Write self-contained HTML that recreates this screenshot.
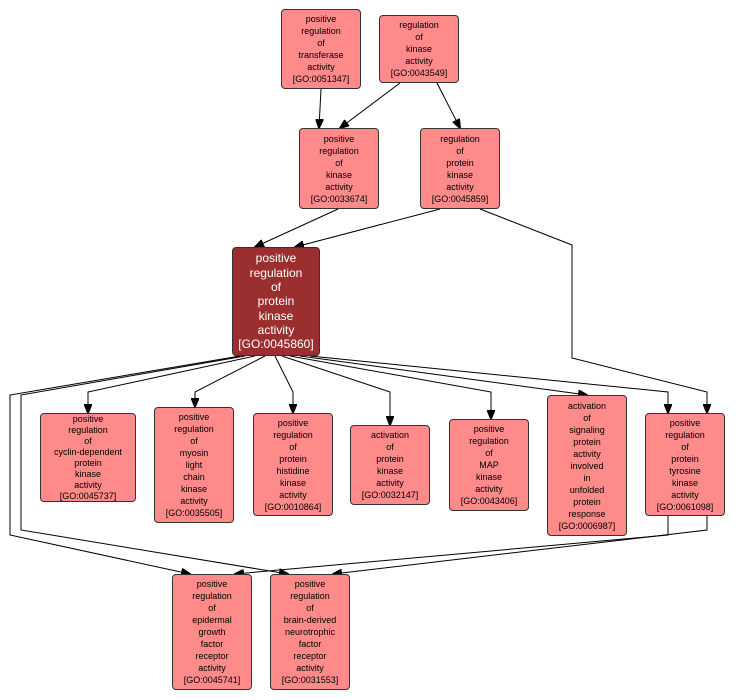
<!DOCTYPE html>
<html><head><style>
body{margin:0;width:736px;height:700px;background:#fff;position:relative;overflow:hidden;font-family:"Liberation Sans",sans-serif}
.n{position:absolute;box-sizing:border-box;background:#ff8a8a;border:1px solid #333;border-radius:4px;font-size:9px;line-height:12px;text-align:center;display:flex;align-items:center;justify-content:center;color:#000}
.m{background:#9b2f2f;color:#fff;font-size:12px;line-height:14.3px}
svg{position:absolute;left:0;top:0}
</style></head><body>
<svg width="736" height="700" fill="none" stroke="#000" stroke-width="1">
<defs><marker id="a" markerWidth="10" markerHeight="8" refX="9" refY="4" orient="auto" markerUnits="userSpaceOnUse"><path d="M0,0L10,4L0,8z" fill="#000"/></marker></defs>
<g marker-end="url(#a)">
<path d="M321,89L319,128"/>
<path d="M400,83L340,128"/>
<path d="M437,83L460,128"/>
<path d="M338,209L255,247"/>
<path d="M440,209L295,247"/>
<path d="M255,356L88,392L88,413"/>
<path d="M265,356L195,392L195,407"/>
<path d="M275,356L293,392L293,413"/>
<path d="M282,356L390,392L390,425"/>
<path d="M290,356L491,392L491,419"/>
<path d="M300,356L587,395"/>
<path d="M310,356L668,392L668,413"/>
<path d="M480,209L572,245L572,358L707,392L707,413"/>
<path d="M240,356L10,395L10,535L190,574"/>
<path d="M245,356L21,395L21,530L288,574"/>
<path d="M668,516L668,535L235,574"/>
<path d="M707,516L707,530L333,574"/>
</g></svg>
<div class="n" style="left:281px;top:9px;width:80px;height:80px">positive<br>regulation<br>of<br>transferase<br>activity<br>[GO:0051347]</div>
<div class="n" style="left:379px;top:15px;width:80px;height:68px">regulation<br>of<br>kinase<br>activity<br>[GO:0043549]</div>
<div class="n" style="left:299px;top:128px;width:80px;height:81px">positive<br>regulation<br>of<br>kinase<br>activity<br>[GO:0033674]</div>
<div class="n" style="left:420px;top:128px;width:80px;height:81px">regulation<br>of<br>protein<br>kinase<br>activity<br>[GO:0045859]</div>
<div class="n m" style="left:232px;top:247px;width:88px;height:109px">positive<br>regulation<br>of<br>protein<br>kinase<br>activity<br>[GO:0045860]</div>
<div class="n" style="left:40px;top:413px;width:96px;height:89px;line-height:11px">positive<br>regulation<br>of<br>cyclin-dependent<br>protein<br>kinase<br>activity<br>[GO:0045737]</div>
<div class="n" style="left:154px;top:407px;width:80px;height:116px">positive<br>regulation<br>of<br>myosin<br>light<br>chain<br>kinase<br>activity<br>[GO:0035505]</div>
<div class="n" style="left:253px;top:413px;width:80px;height:103px">positive<br>regulation<br>of<br>protein<br>histidine<br>kinase<br>activity<br>[GO:0010864]</div>
<div class="n" style="left:350px;top:425px;width:80px;height:80px">activation<br>of<br>protein<br>kinase<br>activity<br>[GO:0032147]</div>
<div class="n" style="left:449px;top:419px;width:80px;height:92px">positive<br>regulation<br>of<br>MAP<br>kinase<br>activity<br>[GO:0043406]</div>
<div class="n" style="left:547px;top:395px;width:80px;height:141px">activation<br>of<br>signaling<br>protein<br>activity<br>involved<br>in<br>unfolded<br>protein<br>response<br>[GO:0006987]</div>
<div class="n" style="left:645px;top:413px;width:80px;height:103px">positive<br>regulation<br>of<br>protein<br>tyrosine<br>kinase<br>activity<br>[GO:0061098]</div>
<div class="n" style="left:172px;top:574px;width:80px;height:116px">positive<br>regulation<br>of<br>epidermal<br>growth<br>factor<br>receptor<br>activity<br>[GO:0045741]</div>
<div class="n" style="left:270px;top:574px;width:80px;height:116px">positive<br>regulation<br>of<br>brain-derived<br>neurotrophic<br>factor<br>receptor<br>activity<br>[GO:0031553]</div>
</body></html>
